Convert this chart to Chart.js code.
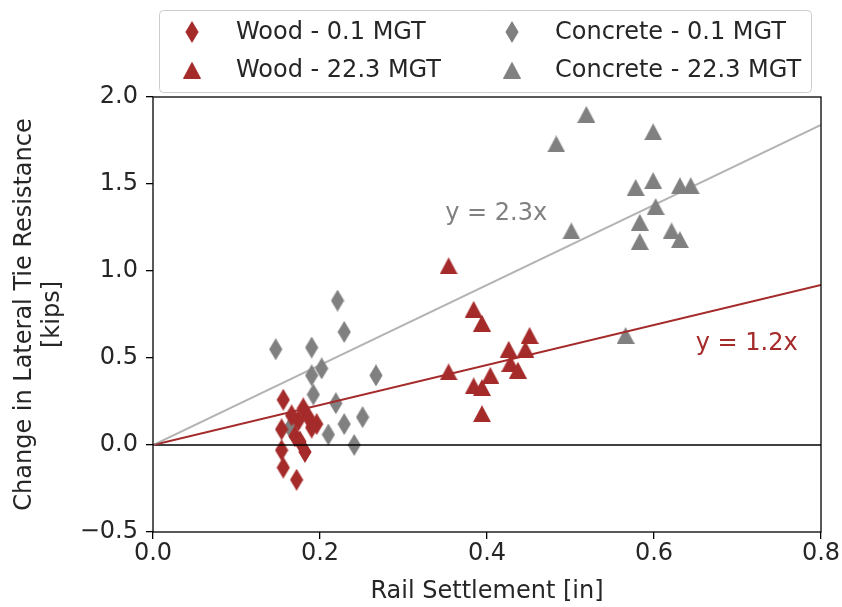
<!DOCTYPE html>
<html>
<head>
<meta charset="utf-8">
<title>Change in lateral tie resistance vs rail settlement</title>
<script src="https://cdn.jsdelivr.net/npm/chart.js@4.4.0/dist/chart.umd.min.js"></script>
<style>
    html, body { margin: 0; padding: 0; background: #fff; }
    #wrap { width: 842px; height: 607px; }
</style>
</head>
<body>
<div id="wrap"><canvas id="settlementChart" width="842" height="607"></canvas></div>
<script>
//Wood ties - 0.1 MGT
const woodEarlyX = [0.156, 0.154, 0.154, 0.156, 0.172, 0.180, 0.174, 0.170, 0.186, 0.196, 0.182, 0.176, 0.190, 0.166];
const woodEarlyY = [0.26, 0.09, -0.03, -0.13, -0.20, 0.21, 0.14, 0.05, 0.16, 0.12, -0.04, 0.02, 0.10, 0.17];

//Wood ties - 22.3 MGT
const woodLateX = [0.354, 0.384, 0.394, 0.354, 0.451, 0.426, 0.446, 0.428, 0.437, 0.404, 0.384, 0.394, 0.394];
const woodLateY = [1.03, 0.78, 0.70, 0.42, 0.63, 0.55, 0.55, 0.47, 0.43, 0.40, 0.34, 0.33, 0.18];

//Concrete ties - 0.1 MGT
const concreteEarlyX = [0.221, 0.229, 0.147, 0.190, 0.202, 0.190, 0.192, 0.267, 0.219, 0.164, 0.210, 0.229, 0.251, 0.241];
const concreteEarlyY = [0.83, 0.65, 0.55, 0.56, 0.44, 0.40, 0.29, 0.40, 0.24, 0.10, 0.06, 0.12, 0.16, 0.00];

//Concrete ties - 22.3 MGT
const concreteLateX = [0.519, 0.483, 0.599, 0.578, 0.599, 0.631, 0.644, 0.602, 0.583, 0.501, 0.621, 0.631, 0.583, 0.566];
const concreteLateY = [1.90, 1.73, 1.80, 1.48, 1.52, 1.49, 1.49, 1.37, 1.28, 1.23, 1.23, 1.18, 1.17, 0.63];

//Fit lines through the origin (end points)
const fitX = [0, 0.8];
const woodFitY = [0, 0.92];
const concreteFitY = [0, 1.84];
const zeroY = [0, 0];

//Fit labels
const fitLabels = ['y = 2.3x', 'y = 1.2x'];
const fitLabelX = [0.35, 0.65];
const fitLabelY = [1.33, 0.58];

//Axes
const xTicks = [0.0, 0.2, 0.4, 0.6, 0.8];
const yTicks = [-0.5, 0.0, 0.5, 1.0, 1.5, 2.0];

const RED = '#a52a2a';
const GRAY = '#808080';
const TEXT = '#262626';
const FONT = '24px "DejaVu Sans", sans-serif';

function toPoints(xs, ys) {
    return xs.map((x, i) => ({x: x, y: ys[i]}));
}

//Thin diamond like matplotlib 'd'
function diamondImage(color) {
    const c = document.createElement('canvas');
    c.width = 14; c.height = 22;
    const g = c.getContext('2d');
    g.fillStyle = color;
    g.beginPath();
    g.moveTo(7, 0); g.lineTo(13.6, 11); g.lineTo(7, 22); g.lineTo(0.4, 11);
    g.closePath();
    g.fill();
    return c;
}

//Triangle like matplotlib '^'
function triangleImage(color) {
    const c = document.createElement('canvas');
    c.width = 18; c.height = 17;
    const g = c.getContext('2d');
    g.fillStyle = color;
    g.beginPath();
    g.moveTo(9, 0); g.lineTo(18, 17); g.lineTo(0, 17);
    g.closePath();
    g.fill();
    return c;
}

function scatterSet(label, xs, ys, img) {
    return {
        label: label,
        data: toPoints(xs, ys),
        pointStyle: img,
        pointRadius: 8,
        showLine: false,
        inLegend: true,
        order: 2,
    };
}

function lineSet(xs, ys, color, width) {
    return {
        data: toPoints(xs, ys),
        showLine: true,
        borderColor: color,
        borderWidth: width,
        pointRadius: 0,
        order: 1,
    };
}

//Legend drawn like matplotlib, 2 columns filled column by column
const legendBox = {
    id: 'legendBox',
    afterDraw(chart) {
        const ctx = chart.ctx;
        ctx.save();
        ctx.beginPath();
        ctx.roundRect(159.5, 10.5, 652, 82, 4);
        ctx.fillStyle = 'rgba(255,255,255,0.8)';
        ctx.fill();
        ctx.strokeStyle = '#cccccc';
        ctx.lineWidth = 1;
        ctx.stroke();

        const colMarker = [192, 512];
        const colText = [236, 555];
        const rowY = [32, 70];
        const items = chart.data.datasets.filter(d => d.inLegend);
        ctx.font = FONT;
        ctx.fillStyle = TEXT;
        ctx.textBaseline = 'middle';
        items.forEach((d, i) => {
            const col = Math.floor(i / 2);
            const row = i % 2;
            const img = d.pointStyle;
            ctx.drawImage(img, colMarker[col] - img.width / 2, rowY[row] - img.height / 2);
            ctx.fillText(d.label, colText[col], rowY[row] + 1);
        });
        ctx.restore();
    }
};

//Fit equations and the axes frame
const extras = {
    id: 'extras',
    afterDatasetsDraw(chart) {
        const ctx = chart.ctx;
        const xs = chart.scales.x;
        const ys = chart.scales.y;
        const colors = [GRAY, RED];
        ctx.save();
        ctx.font = FONT;
        ctx.textBaseline = 'middle';
        fitLabels.forEach((t, i) => {
            ctx.fillStyle = colors[i];
            ctx.fillText(t, xs.getPixelForValue(fitLabelX[i]), ys.getPixelForValue(fitLabelY[i]));
        });
        const a = chart.chartArea;
        ctx.strokeStyle = '#000';
        ctx.lineWidth = 1.3;
        ctx.strokeRect(a.left, a.top, a.right - a.left, a.bottom - a.top);
        ctx.restore();
    }
};

Chart.defaults.font.family = '"DejaVu Sans", sans-serif';
Chart.defaults.font.size = 24;
Chart.defaults.color = TEXT;

const chart = new Chart('settlementChart', {
    type: 'scatter',
    data: {
        datasets: [
            scatterSet('Wood - 0.1 MGT', woodEarlyX, woodEarlyY, diamondImage(RED)),
            scatterSet('Wood - 22.3 MGT', woodLateX, woodLateY, triangleImage(RED)),
            scatterSet('Concrete - 0.1 MGT', concreteEarlyX, concreteEarlyY, diamondImage(GRAY)),
            scatterSet('Concrete - 22.3 MGT', concreteLateX, concreteLateY, triangleImage(GRAY)),
            lineSet(fitX, concreteFitY, 'rgba(128,128,128,0.6)', 2),
            lineSet(fitX, woodFitY, RED, 2),
            lineSet(fitX, zeroY, '#000', 1.5),
        ]
    },
    options: {
        responsive: false,
        animation: false,
        events: [],
        layout: {padding: {top: 97, right: 21, bottom: 0, left: 0}},
        plugins: {
            legend: {display: false},
            tooltip: {enabled: false},
        },
        scales: {
            x: {
                type: 'linear',
                min: 0, max: 0.8,
                afterBuildTicks: s => { s.ticks = xTicks.map(v => ({value: v})); },
                afterFit: s => { s.height = 75; },
                border: {display: false},
                grid: {drawOnChartArea: false, drawTicks: true, tickLength: 7, color: '#000', lineWidth: 1.3},
                ticks: {padding: 0, maxRotation: 0, callback: v => v.toFixed(1)},
                title: {display: true, text: 'Rail Settlement [in]', padding: {top: 0, bottom: 1}},
            },
            y: {
                type: 'linear',
                min: -0.5, max: 2.0,
                afterBuildTicks: s => { s.ticks = yTicks.map(v => ({value: v})); },
                afterFit: s => { s.width = 153; },
                border: {display: false},
                grid: {drawOnChartArea: false, drawTicks: true, tickLength: 7, color: '#000', lineWidth: 1.3},
                ticks: {padding: 8, callback: v => (v < 0 ? '\u2212' : '') + Math.abs(v).toFixed(1)},
                title: {
                    display: true,
                    text: ['Change in Lateral Tie Resistance', '[kips]'],
                    font: {size: 24, lineHeight: 1.2},
                    padding: {top: 10, bottom: 0},
                },
            },
        },
    },
    plugins: [legendBox, extras],
});
</script>
</body>
</html>
